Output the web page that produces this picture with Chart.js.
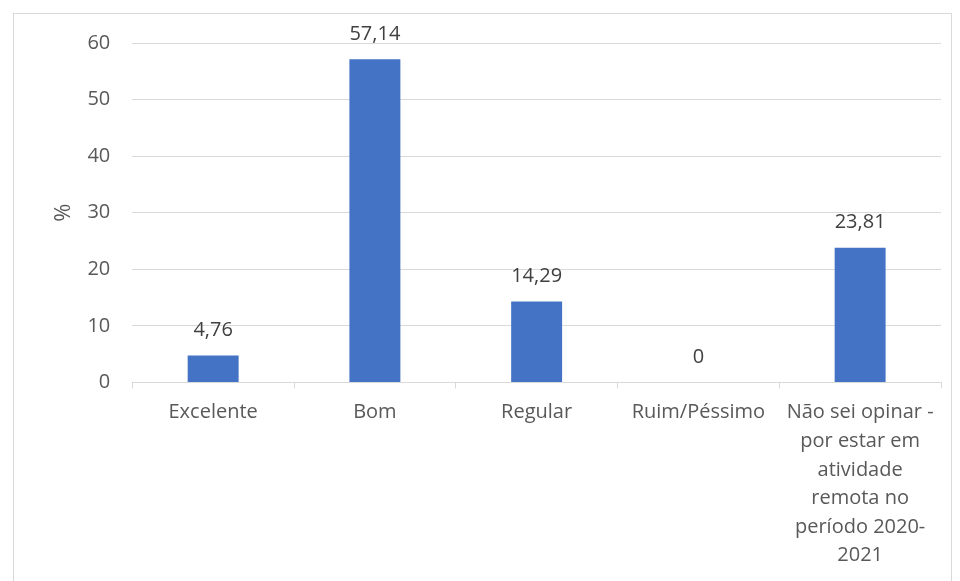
<!DOCTYPE html>
<html>
<head>
<meta charset="utf-8">
<script src="https://cdn.jsdelivr.net/npm/chart.js@4"></script>
<style>
  html, body { margin: 0; padding: 0; background: #fff; overflow: hidden; }
  #box {
    position: absolute; left: 13px; top: 13px;
    width: 939px; height: 600px;
    border: 1px solid #d9d9d9; box-sizing: border-box;
  }
  #wrap { position: absolute; left: 0; right: 0; top: -5px; bottom: 0; }
</style>
</head>
<body>
<div id="box"><div id="wrap"><canvas id="myChart"></canvas></div></div>
<script>
var categories = [
  'Excelente',
  'Bom',
  'Regular',
  'Ruim/Péssimo',
  ['Não sei opinar -', 'por estar em', 'atividade', 'remota no', 'período 2020-', '2021']
];
var values = [4.76, 57.14, 14.29, 0, 23.81];
var valueLabels = ['4,76', '57,14', '14,29', '0', '23,81'];
var yTicks = [0, 10, 20, 30, 40, 50, 60];

var fontFamily = '"Open Sans", sans-serif';

// labels above the bars
var barLabels = {
  id: 'barLabels',
  afterDatasetsDraw: function (chart) {
    var c = chart.ctx;
    var meta = chart.getDatasetMeta(0);
    c.save();
    c.font = '20px ' + fontFamily;
    c.fillStyle = '#404040';
    c.textAlign = 'center';
    c.textBaseline = 'middle';
    meta.data.forEach(function (bar, i) {
      c.fillText(valueLabels[i], bar.x, bar.y - 25);
    });
    c.restore();
  }
};

var ctx = document.getElementById('myChart');
var myChart = new Chart(ctx, {
  type: 'bar',
  data: {
    labels: categories,
    datasets: [{
      data: values,
      backgroundColor: '#4472C4',
      borderWidth: 0,
      categoryPercentage: 1,
      barPercentage: 0.315
    }]
  },
  options: {
    responsive: true,
    maintainAspectRatio: false,
    animation: false,
    layout: { padding: { top: 12, right: 10, bottom: 32, left: 37 } },
    plugins: {
      legend: { display: false },
      tooltip: { enabled: false }
    },
    scales: {
      x: {
        grid: {
          offset: true,
          drawOnChartArea: false,
          drawTicks: true,
          tickLength: 6,
          color: '#d9d9d9'
        },
        border: { color: '#d9d9d9' },
        ticks: {
          color: '#595959',
          font: { family: fontFamily, size: 20, lineHeight: 1.43 },
          padding: 10,
          maxRotation: 0,
          autoSkip: false
        }
      },
      y: {
        min: 0,
        max: 60,
        afterBuildTicks: function (axis) {
          axis.ticks = yTicks.map(function (v) { return { value: v }; });
        },
        grid: { color: '#d9d9d9', drawTicks: false },
        border: { display: false },
        ticks: {
          color: '#595959',
          font: { family: fontFamily, size: 20 },
          padding: 22
        },
        title: {
          display: true,
          text: '%',
          color: '#595959',
          font: { family: fontFamily, size: 22 },
          padding: { top: 0, bottom: -12 }
        }
      }
    }
  },
  plugins: [barLabels]
});
</script>
</body>
</html>
